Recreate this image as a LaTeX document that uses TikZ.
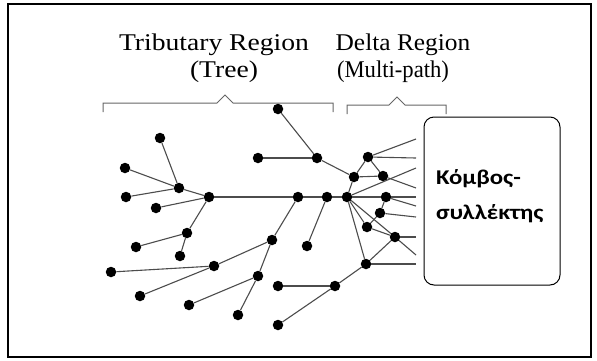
\documentclass[tikz,border=0pt]{standalone}
\usepackage{fontspec}
\setmainfont{Liberation Serif}
\newfontfamily\grfont{Carlito}
\usepackage{tikz}
\usetikzlibrary{positioning}

\begin{document}
\begin{tikzpicture}[x=1pt,y=-1pt,
		dot/.style={circle,fill=black,inner sep=0pt,minimum size=10.5pt},
		lnk/.style={draw=black!70,line width=1.1pt},
		brc/.style={draw=black!60,line width=1pt},
		ttl/.style={font=\fontsize{24}{28}\selectfont,xscale=1.15,anchor=base}]
	\useasboundingbox (0,0) rectangle (597,360);
	\draw[line width=1.5pt] (8,4) rectangle (591,357);

	% headings and braces
	\node[ttl] (trib) at (214,50) {Tributary Region};
	\node[ttl] (tree) at (224,77) {(Tree)};
	\node[ttl,xscale=0.92] (delta) at (403,50) {Delta Region};
	\node[ttl,xscale=0.82] (multi) at (393,77) {(Multi-path)};
	\draw[brc] (103,112) -- (103,103) -- (217,103) -- (225,95) -- (233,103) -- (333,103) -- (333,112);
	\draw[brc] (347,114) -- (347,105) -- (389,105) -- (397,97) -- (405,105) -- (446,105) -- (446,114);

	% sink
	\node[draw,rounded corners=10pt,line width=1pt,minimum width=136pt,minimum height=168pt] (sink) at (492,201) {};
	\node[font=\grfont\bfseries\fontsize{21}{35}\selectfont,xscale=1.18,align=left,anchor=west] (lbl) at (432,196) {Κόμβος-\\συλλέκτης};

	% tributary nodes
	\node[dot] (a1) at (160,138) {};
	\node[dot] (a2) at (125,168) {};
	\node[dot] (a3) at (179,188) {};
	\node[dot] (a4) at (126,197) {};
	\node[dot] (a5) at (156,208) {};
	\node[dot] (h1) at (209,197) {};
	\node[dot] (a6) at (187,233) {};
	\node[dot] (a7) at (136,247) {};
	\node[dot] (a8) at (180,256) {};
	\node[dot] (h2) at (298,197) {};
	\node[dot] (h3) at (327,197) {};
	\node[dot] (s) at (347,197) {};
	\node[dot] (b1) at (278,109) {};
	\node[dot] (b2) at (258,158) {};
	\node[dot] (b3) at (317,158) {};
	\node[dot] (b4) at (272,240) {};
	\node[dot] (b5) at (307,246) {};
	\node[dot] (b6) at (214,266) {};
	\node[dot] (b7) at (111,272) {};
	\node[dot] (b8) at (258,276) {};
	\node[dot] (b9) at (140,296) {};
	\node[dot] (b10) at (189,305) {};
	\node[dot] (b11) at (238,315) {};
	\node[dot] (c1) at (278,286) {};
	\node[dot] (c2) at (335,286) {};
	\node[dot] (c3) at (278,325) {};

	% delta nodes
	\node[dot] (d1) at (354,177) {};
	\node[dot] (d2) at (368,157) {};
	\node[dot] (d3) at (383,176) {};
	\node[dot] (d4) at (386,197) {};
	\node[dot] (d5) at (380,213) {};
	\node[dot] (d6) at (367,227) {};
	\node[dot] (d7) at (395,237) {};
	\node[dot] (d8) at (366,264) {};

	\coordinate (e1) at (416,139);
	\coordinate (e2) at (416,158);
	\coordinate (e3) at (416,168);
	\coordinate (e4) at (416,188);
	\coordinate (e5) at (416,197);
	\coordinate (e6) at (416,206);
	\coordinate (e7) at (416,217);
	\coordinate (e8) at (416,237);
	\coordinate (e9) at (416,255);
	\coordinate (e10) at (416,264);

	\foreach \p/\q in {a1/a3,a2/a3,a4/a3,a3/h1,a5/h1,h1/a6,a6/a8,a7/a6,
			h1/h2,h2/h3,h3/s,h2/b4,b4/b8,b8/b11,b4/b6,b6/b7,b6/b9,b8/b10,h3/b5,
			b1/b3,b2/b3,b3/d1,d1/s,d1/d2,d1/d3,d2/d3,
			s/d4,d4/d5,d5/d6,s/d6,d6/d7,s/d7,d7/d8,s/d8,d8/c2,c1/c2,c2/c3,
			d2/e1,d2/e2,s/e3,d3/e4,d4/e5,d4/e6,d5/e7,d7/e8,d7/e9,d8/e10}
		\draw[lnk] (\p) -- (\q);
\end{tikzpicture}
\end{document}
